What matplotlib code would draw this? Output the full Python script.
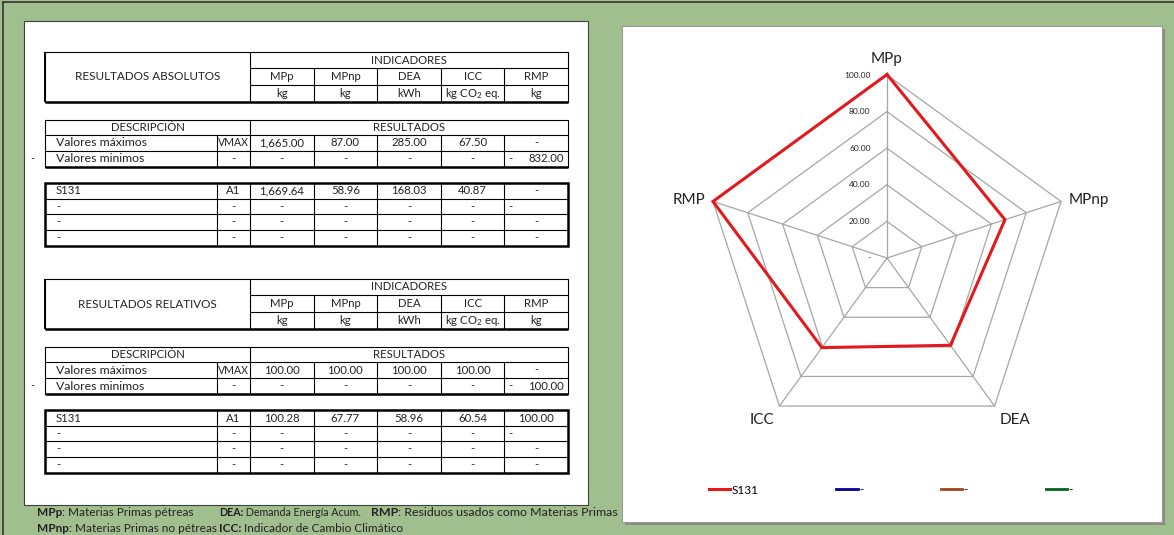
import numpy as np
import matplotlib
matplotlib.use("Agg")
import matplotlib.pyplot as plt
from matplotlib.patches import Rectangle
from matplotlib.lines import Line2D

plt.rcParams['font.family'] = ['Lato', 'DejaVu Sans']
plt.rcParams['mathtext.fontset'] = 'custom'
plt.rcParams['mathtext.rm'] = 'Lato'

# ---- datos ----
indicadores = ['MPp', 'MPnp', 'DEA', 'ICC', 'RMP']
unidades = ['kg', 'kg', 'kWh', 'kg CO$_2$ eq.', 'kg']

abs_max = [1665.00, 87.00, 285.00, 67.50, None]
abs_min = [None, None, None, None, 832.00]
abs_s131 = [1669.64, 58.96, 168.03, 40.87, None]

rel_max = [100.00, 100.00, 100.00, 100.00, None]
rel_min = [None, None, None, None, 100.00]
rel_s131 = [100.28, 67.77, 58.96, 60.54, 100.00]

series = ['S131', '-', '-', '-']
series_colors = ['#E3191C', '#000099', '#A0441C', '#00661A']
radar_ticks = [0, 20, 40, 60, 80, 100]

notas = [
    [(37, 'MPp', ': Materias Primas pétreas', 8.5),
     (219, 'DEA:', ' Demanda Energía Acum.', 7.7),
     (371, 'RMP', ': Residuos usados como Materias Primas', 8.9)],
    [(37, 'MPnp', ': Materias Primas no pétreas', 8.5),
     (219, 'ICC:', ' Indicador de Cambio Climático', 8.5)],
]

W, H = 1174, 535
GREEN = '#A0BE8E'
TXT = '#222222'

fig = plt.figure(figsize=(W / 100, H / 100), dpi=100, facecolor=GREEN)
ax = fig.add_axes([0, 0, 1, 1])
ax.set_xlim(0, W)
ax.set_ylim(H, 0)
ax.axis('off')

# marcos
ax.plot([3, 3], [2, H], color='#333333', lw=1.2)
ax.plot([3, W], [2, 2], color='#333333', lw=1.2)
ax.add_patch(Rectangle((24, 21), 564, 484, facecolor='white', edgecolor='#404040', lw=0.8))
ax.add_patch(Rectangle((625, 29), 540, 496, facecolor='#8A8A8A', edgecolor='none'))
ax.add_patch(Rectangle((622, 26), 540, 496, facecolor='white', edgecolor='#9A9A9A', lw=0.8))

cols = [45, 217] + list(np.linspace(250, 568, 6))
x0, x1 = cols[0], cols[-1]
ind_edges = cols[2:]


def fmt(v):
    return '-' if v is None else f'{v:,.2f}'


def hline(y, xa, xb, lw=0.8):
    ax.plot([xa, xb], [y, y], color='black', lw=lw, solid_capstyle='butt')


def vline(x, ya, yb, lw=0.8):
    ax.plot([x, x], [ya, yb], color='black', lw=lw, solid_capstyle='butt')


def cell(x, y, s, ha='center', size=8.2):
    ax.text(x, y, s, ha=ha, va='center', fontsize=size, color=TXT)


def bloque(y0, titulo, vmax, vmin, s131):
    # tabla de indicadores
    r = [y0, y0 + 16, y0 + 33, y0 + 50]
    ax.add_patch(Rectangle((x0, r[0]), x1 - x0, r[3] - r[0], fill=False, edgecolor='black', lw=0.8))
    hline(r[3], x0, x1, 1.8)
    vline(x0, r[0], r[3], 1.4)
    vline(cols[2], r[0], r[3])
    hline(r[1], cols[2], x1)
    hline(r[2], cols[2], x1)
    for xe in ind_edges[1:-1]:
        vline(xe, r[1], r[3])
    cell((x0 + cols[2]) / 2, (r[0] + r[3]) / 2, titulo, size=8.4)
    cell((cols[2] + x1) / 2, (r[0] + r[1]) / 2, 'INDICADORES')
    for i in range(5):
        xc = (ind_edges[i] + ind_edges[i + 1]) / 2
        cell(xc, (r[1] + r[2]) / 2, indicadores[i])
        cell(xc, (r[2] + r[3]) / 2, unidades[i])

    # descripcion
    r = [y0 + 68, y0 + 83, y0 + 99, y0 + 115]
    ax.add_patch(Rectangle((x0, r[0]), x1 - x0, r[3] - r[0], fill=False, edgecolor='black', lw=0.8))
    hline(r[3], x0, x1, 1.8)
    hline(r[1], x0, x1)
    hline(r[2], x0, x1)
    vline(cols[2], r[0], r[3])
    vline(cols[1], r[1], r[3])
    for xe in ind_edges[1:-1]:
        vline(xe, r[1], r[3])
    cell((x0 + cols[2]) / 2, (r[0] + r[1]) / 2, 'DESCRIPCIÓN')
    cell((cols[2] + x1) / 2, (r[0] + r[1]) / 2, 'RESULTADOS')
    ym, yn = (r[1] + r[2]) / 2, (r[2] + r[3]) / 2
    cell(x0 + 11, ym, 'Valores máximos', ha='left', size=8.8)
    cell(x0 + 11, yn, 'Valores minimos', ha='left', size=8.8)
    cell(30, yn, '-', ha='left')
    cell((cols[1] + cols[2]) / 2, ym, 'VMAX', size=7.6)
    cell((cols[1] + cols[2]) / 2, yn, '-')
    for i in range(5):
        xc = (ind_edges[i] + ind_edges[i + 1]) / 2
        cell(xc, ym, fmt(vmax[i]))
        if vmin[i] is None:
            cell(xc, yn, '-')
        else:
            cell(ind_edges[i] + 4, yn, '-', ha='left')
            cell(ind_edges[i + 1] - 4, yn, fmt(vmin[i]), ha='right')

    # escenarios
    r = [y0 + 131, y0 + 147, y0 + 162, y0 + 178, y0 + 194]
    for yy in r[1:-1]:
        hline(yy, x0, x1)
    for xe in cols[1:-1]:
        vline(xe, r[0], r[-1])
    ax.add_patch(Rectangle((x0, r[0]), x1 - x0, r[-1] - r[0], fill=False, edgecolor='black', lw=1.8))
    filas = [('S131', 'A1', s131), ('-', '-', [None] * 5), ('-', '-', [None] * 5), ('-', '-', [None] * 5)]
    for k, (nombre, cod, vals) in enumerate(filas):
        yc = (r[k] + r[k + 1]) / 2
        cell(x0 + 11, yc, nombre, ha='left')
        cell((cols[1] + cols[2]) / 2, yc, cod)
        for i in range(5):
            xc = (ind_edges[i] + ind_edges[i + 1]) / 2
            if k == 1 and i == 4:
                cell(ind_edges[i] + 4, yc, '-', ha='left')
            else:
                cell(xc, yc, fmt(vals[i]))


bloque(52, 'RESULTADOS ABSOLUTOS', abs_max, abs_min, abs_s131)
bloque(279, 'RESULTADOS RELATIVOS', rel_max, rel_min, rel_s131)

# notas al pie
rend = fig.canvas.get_renderer()
for y, linea in zip([513, 529], notas):
    for x, neg, resto, fs in linea:
        t = ax.text(x, y, neg, fontsize=fs, fontweight='bold', va='center', ha='left', color=TXT)
        w = t.get_window_extent(renderer=rend).width
        ax.text(x + w, y, resto, fontsize=fs, va='center', ha='left', color=TXT)

# ---- radar ----
cx, cy, R = 887, 258, 183
half = 250
L = half * 100 / R
axr = fig.add_axes([(cx - half) / W, (H - cy - half) / H, 2 * half / W, 2 * half / H])
axr.set_xlim(-L, L)
axr.set_ylim(-L, L)
axr.axis('off')

n = len(indicadores)
ang = np.pi / 2 - 2 * np.pi * np.arange(n) / n
ux, uy = np.cos(ang), np.sin(ang)
grid_c = '#A6A6A6'
for v in radar_ticks[1:]:
    axr.plot(np.append(ux, ux[0]) * v, np.append(uy, uy[0]) * v, color=grid_c, lw=0.9)
for i in range(n):
    axr.plot([0, ux[i] * 100], [0, uy[i] * 100], color=grid_c, lw=0.9)
for v in radar_ticks:
    axr.text(-9, v, '-' if v == 0 else f'{v:.2f}', ha='right', va='center', fontsize=6, color=TXT)

vals = np.array(rel_s131)
handles = []
for j, (nom, col) in enumerate(zip(series, series_colors)):
    if j == 0:
        axr.plot(np.append(ux * vals, ux[0] * vals[0]), np.append(uy * vals, uy[0] * vals[0]),
                 color=col, lw=2.2, solid_joinstyle='miter')
    handles.append(Line2D([], [], color=col, lw=2.2 if j == 0 else 2.0, label=nom))

# (radio, desplazamiento x, desplazamiento y, ha, va)
lab_pos = [(105, 0, 0, 'center', 'bottom'),
           (102, 2, 0, 'left', 'center'),
           (100, 3, -4, 'left', 'top'),
           (100, -3, -4, 'right', 'top'),
           (102, -2, 0, 'right', 'center')]
for i, (rr, dx, dy, ha, va) in enumerate(lab_pos):
    axr.text(ux[i] * rr + dx, uy[i] * rr + dy, indicadores[i], ha=ha, va=va, fontsize=11, color=TXT)

axr.legend(handles=handles, loc='center left', bbox_to_anchor=(709 / W, 1 - 490 / H),
           bbox_transform=fig.transFigure, ncol=4, frameon=False, fontsize=8.5,
           handlelength=1.8, handletextpad=0.1, columnspacing=6.6, borderpad=0, borderaxespad=0)

fig.savefig('out.png', dpi=100, facecolor=GREEN)
